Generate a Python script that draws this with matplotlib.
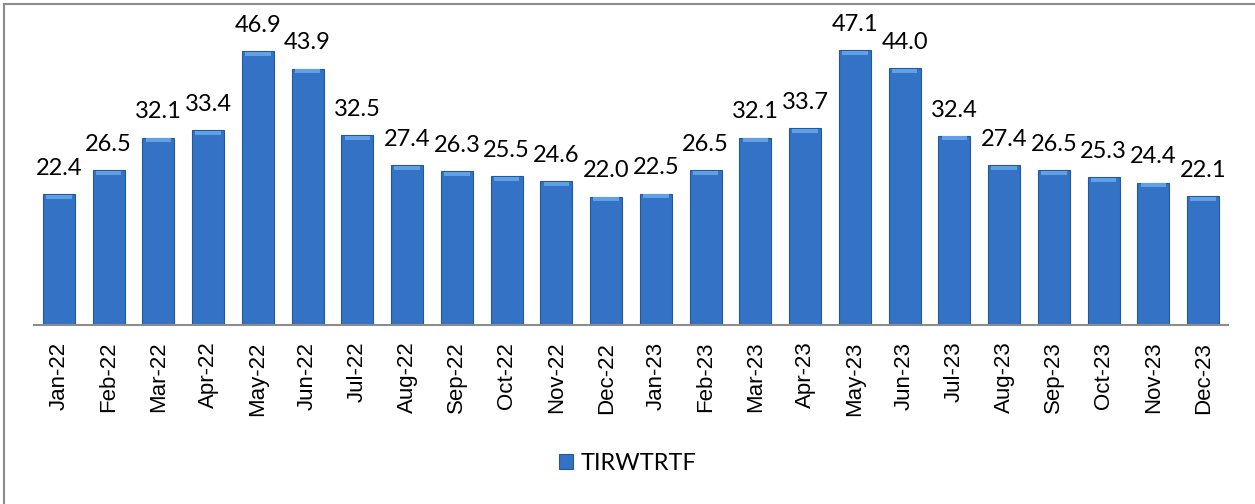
import matplotlib.pyplot as plt
from matplotlib.lines import Line2D

months = ["Jan-22", "Feb-22", "Mar-22", "Apr-22", "May-22", "Jun-22", "Jul-22", "Aug-22",
          "Sep-22", "Oct-22", "Nov-22", "Dec-22", "Jan-23", "Feb-23", "Mar-23", "Apr-23",
          "May-23", "Jun-23", "Jul-23", "Aug-23", "Sep-23", "Oct-23", "Nov-23", "Dec-23"]
values = [22.4, 26.5, 32.1, 33.4, 46.9, 43.9, 32.5, 27.4, 26.3, 25.5, 24.6, 22.0,
          22.5, 26.5, 32.1, 33.7, 47.1, 44.0, 32.4, 27.4, 26.5, 25.3, 24.4, 22.1]
series_name = "TIRWTRTF"

fig = plt.figure(figsize=(12.55, 5.04), dpi=100)
ax = fig.add_axes([0.0271, 0.355, 0.9514, 0.5795])

x = range(len(months))
bars = ax.bar(x, values, width=0.64, color='#3372C4', edgecolor='#24579C',
              linewidth=0.8, label=series_name)

# light cap on top of each bar, like the excel bevel
for b in bars:
    ax.bar(b.get_x() + b.get_width() / 2, 0.7, bottom=b.get_height() - 0.8,
           width=b.get_width() * 0.8, color='#62A0E6', linewidth=0)

for xi, v in zip(x, values):
    ax.text(xi, v + 2.6, f"{v:.1f}", ha='center', va='bottom', fontsize=17,
            family='Lato', clip_on=False)

ax.set_xlim(-0.5, len(months) - 0.5)
ax.set_ylim(0, 50)
ax.set_yticks([])
ax.set_xticks(list(x))
ax.set_xticklabels(months, rotation=90, fontsize=16, family='Liberation Sans')
ax.tick_params(axis='x', length=0, pad=12)
for side in ['top', 'right', 'left']:
    ax.spines[side].set_visible(False)
ax.spines['bottom'].set_color('#8C8C8C')
ax.spines['bottom'].set_linewidth(1.5)

fig.legend(handles=[bars], labels=[series_name], loc='center',
           bbox_to_anchor=(0.5, 0.081), frameon=False, handlelength=0.6,
           handleheight=0.6, handletextpad=0.3, prop={'family': 'Lato', 'size': 17})

# chart border (left and top visible)
fig.add_artist(Line2D([0.0035, 0.0035], [0, 0.992], color='#8C8C8C', lw=1.5))
fig.add_artist(Line2D([0.0035, 1], [0.992, 0.992], color='#8C8C8C', lw=1.5))

fig.savefig("out.png", dpi=100)
